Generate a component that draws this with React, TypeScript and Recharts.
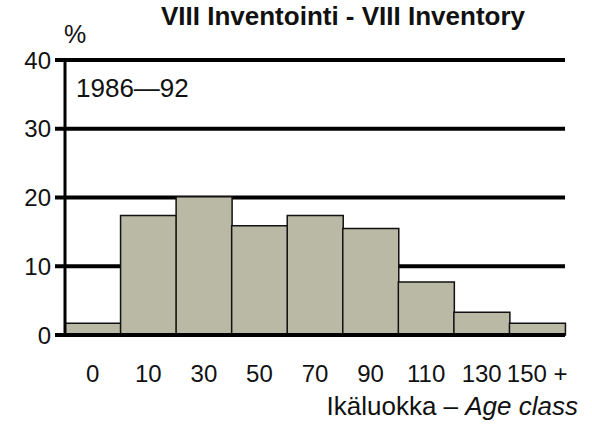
import React from 'react';
import { BarChart, Bar, XAxis, YAxis, CartesianGrid } from 'recharts';

const ageClasses = ['0', '10', '30', '50', '70', '90', '110', '130', '150 +'];
const shares = [1.7, 17.4, 20.1, 15.9, 17.4, 15.5, 7.7, 3.3, 1.7];
const yTicks = [0, 10, 20, 30, 40];

const data = ageClasses.map((age, i) => ({ age, share: shares[i] }));

const font = '"Liberation Sans", Arial, sans-serif';

export default function App() {
  return (
    <div style={{ position: 'absolute', left: 0, top: 0, width: 592, height: 430, background: '#fff', fontFamily: font }}>
      <BarChart
        width={592}
        height={430}
        data={data}
        barCategoryGap={0}
        margin={{ top: 60, right: 27, bottom: 35, left: 0 }}
      >
        <CartesianGrid vertical={false} stroke="#000" strokeWidth={4} />
        <XAxis
          dataKey="age"
          height={60}
          tickLine={false}
          tickSize={0}
          tickMargin={30}
          axisLine={{ stroke: '#000', strokeWidth: 4 }}
          tick={{ fill: '#111', fontSize: 24, fontFamily: font }}
        />
        <YAxis
          width={65}
          domain={[0, 40]}
          ticks={yTicks}
          tickSize={10}
          tickMargin={4}
          tickLine={{ stroke: '#000', strokeWidth: 4 }}
          axisLine={{ stroke: '#000', strokeWidth: 3 }}
          tick={{ fill: '#111', fontSize: 24, fontFamily: font }}
        />
        <YAxis
          yAxisId="right"
          orientation="right"
          width={0}
          domain={[0, 40]}
          tick={false}
          tickLine={false}
          axisLine={{ stroke: '#000', strokeWidth: 4 }}
        />
        <Bar dataKey="share" fill="#b9b9a5" stroke="#111" strokeWidth={1.5} isAnimationActive={false} />
      </BarChart>
      <div style={{ position: 'absolute', left: 0, width: 686, top: 1, textAlign: 'center', fontSize: 26, fontWeight: 'bold', color: '#111' }}>
        VIII Inventointi - VIII Inventory
      </div>
      <div style={{ position: 'absolute', left: 64, top: 20, fontSize: 25, color: '#111' }}>%</div>
      <div style={{ position: 'absolute', left: 76, top: 73, fontSize: 26, color: '#111' }}>1986—92</div>
      <div style={{ position: 'absolute', right: 14, top: 391, fontSize: 26, color: '#111' }}>
        Ikäluokka – <i>Age class</i>
      </div>
    </div>
  );
}
